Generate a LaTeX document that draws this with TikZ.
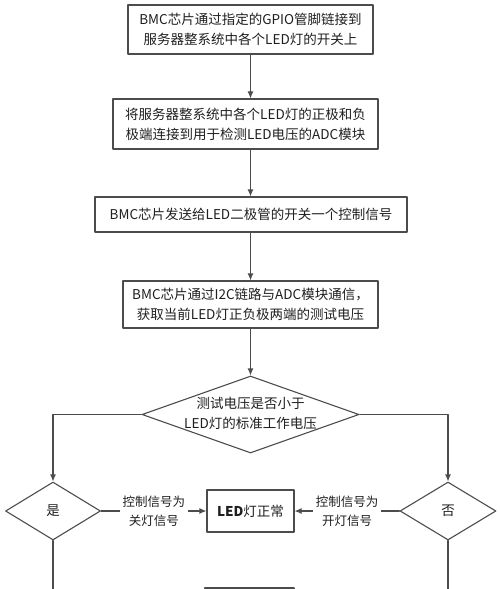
\documentclass[tikz,border=0pt]{standalone}
\usepackage{fontspec}
\setmainfont{Noto Sans CJK SC}
\usepackage{tikz}
\usetikzlibrary{arrows.meta}
\usetikzlibrary{positioning}
\usetikzlibrary{shapes.geometric}
\definecolor{linegray}{rgb}{0.3,0.3,0.3}
\definecolor{textgray}{rgb}{0.12,0.12,0.12}

\begin{document}
\begin{tikzpicture}[line cap=round,line join=round,x=1bp,y=-1bp,
  stepbox/.style={draw=linegray, line width=1.1bp, text=textgray, align=center, inner sep=0pt, font=\fontsize{13.5bp}{20bp}\selectfont},
  decision/.style={diamond, draw=linegray, line width=1.1bp, text=textgray, aspect=2.8, inner sep=0pt, align=center, font=\fontsize{13.5bp}{20bp}\selectfont},
  flow/.style={draw=linegray, line width=1.1bp, -{Latex[length=7bp, width=6bp]}},
  wire/.style={draw=linegray, line width=1.1bp},
  sig/.style={fill=white, text=textgray, align=center, inner sep=3bp, font=\fontsize{12.5bp}{19bp}\selectfont}]
\useasboundingbox (0,0) rectangle (500,589);
\clip (0,0) rectangle (500,589);
\node[stepbox, minimum width=245bp, minimum height=49bp] (link) at (250.5,29.5) {BMC芯片通过指定的GPIO管脚链接到\\服务器整系统中各个LED灯的开关上};
\node[stepbox, minimum width=265bp, minimum height=50bp] (wire) at (245.5,124) {将服务器整系统中各个LED灯的正极和负\\极端连接到用于检测LED电压的ADC模块};
\node[stepbox, minimum width=312bp, minimum height=35bp] (send) at (251,214.5) {BMC芯片发送给LED二极管的开关一个控制信号};
\node[stepbox, minimum width=255bp, minimum height=47bp] (fetch) at (250.5,304.5) {BMC芯片通过I2C链路与ADC模块通信，\\获取当前LED灯正负极两端的测试电压};
\node[decision, minimum width=217bp, minimum height=77bp] (test) at (250.5,414.5) {\smash{\raisebox{-4bp}{\begin{tabular}{@{}c@{}}测试电压是否小于\\LED灯的标准工作电压\end{tabular}}}};
\node[decision, aspect=1.64, minimum width=95bp, minimum height=58bp] (yes) at (53,511) {是};
\node[decision, aspect=1.64, minimum width=96bp, minimum height=58bp] (no) at (448,511) {否};
\node[stepbox, minimum width=87bp, minimum height=42bp] (ok) at (250.5,511) {{\bfseries LED}灯正常};
\node[stepbox, minimum width=89bp, minimum height=46bp] (next) at (249.5,611) {};
\coordinate (yesend) at (53,600);
\coordinate (noend) at (448,600);
\draw[flow] (link) -- (wire.north -| link);
\draw[flow] (wire.south -| link) -- (send.north -| link);
\draw[flow] (send.south -| link) -- (fetch.north -| link);
\draw[flow] (fetch.south -| test) -- (test.north);
\draw[flow] (test.west) -| (yes.north);
\draw[flow] (test.east) -| (no.north);
\draw[flow] (yes.east) -- node[sig] {控制信号为\\关灯信号} (ok.west);
\draw[flow] (no.west) -- node[sig] {控制信号为\\开灯信号} (ok.east);
\draw[wire] (yes.south) -- (yesend);
\draw[wire] (no.south) -- (noend);
\end{tikzpicture}
\end{document}
